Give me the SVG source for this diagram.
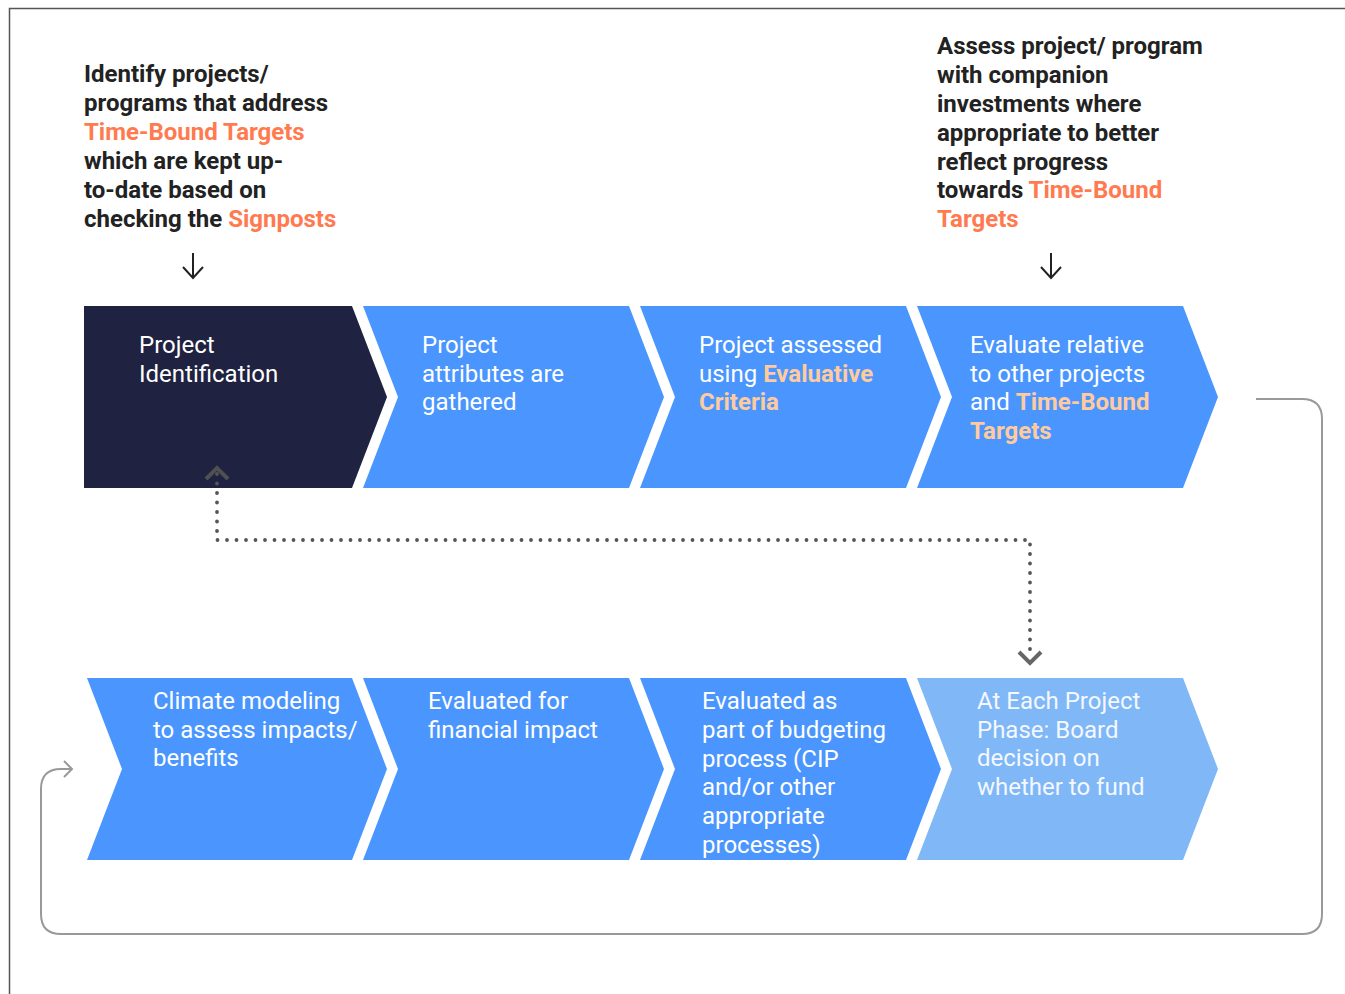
<svg xmlns="http://www.w3.org/2000/svg" width="1345" height="994" viewBox="0 0 1345 994">
<style>
.bg{fill:#ffffff}
.frame{fill:none;stroke:#555555;stroke-width:1.5}
.dark{fill:#1F2240}
.blue{fill:#4A96FE}
.light{fill:#7FB7F7}
.head{font-family:Roboto,"Liberation Sans",sans-serif;font-size:24px;font-weight:700;fill:#222222}
.org{fill:#FF7A4F}
.lbl{font-family:Roboto,"Liberation Sans",sans-serif;font-size:24px;font-weight:400;fill:#ffffff}
.lblL{font-family:Roboto,"Liberation Sans",sans-serif;font-size:24px;font-weight:400;fill:#F4F8FF}
.peach{fill:#FFCB9E;font-weight:700}
.dots{fill:none;stroke:#555555;stroke-width:3.8;stroke-linecap:round;stroke-dasharray:0 9.5}
.dhead{fill:none;stroke:#555555;stroke-width:4;stroke-opacity:0.9}
.loop{fill:none;stroke:#999999;stroke-width:2}
.pt{fill:none;stroke:#222222;stroke-width:2}
</style>
<rect class="bg" x="0" y="0" width="1345" height="994"/>
<path class="frame" d="M1345 8.5 H9.5 V994"/>

<g id="note-left">
<text class="head" x="84" y="82">Identify projects/</text>
<text class="head" x="84" y="111">programs that address</text>
<text class="head org" x="84" y="140">Time-Bound Targets</text>
<text class="head" x="84" y="169">which are kept up-</text>
<text class="head" x="84" y="198">to-date based on</text>
<text class="head" x="84" y="227">checking the <tspan class="org">Signposts</tspan></text>
</g>
<g id="note-right">
<text class="head" x="937" y="54">Assess project/ program</text>
<text class="head" x="937" y="83">with companion</text>
<text class="head" x="937" y="112">investments where</text>
<text class="head" x="937" y="141">appropriate to better</text>
<text class="head" x="937" y="170">reflect progress</text>
<text class="head" x="937" y="198">towards <tspan class="org">Time-Bound</tspan></text>
<text class="head org" x="937" y="227">Targets</text>
</g>

<g id="step1">
<path class="dark" d="M84 306 H352 L387 397 L352 488 H84 Z"/>
<text class="lbl" x="139" y="353">Project</text>
<text class="lbl" x="139" y="382">Identification</text>
</g>
<g id="step2">
<path class="blue" d="M363 306 H629 L664 397 L629 488 H363 L398 397 Z"/>
<text class="lbl" x="422" y="353">Project</text>
<text class="lbl" x="422" y="382">attributes are</text>
<text class="lbl" x="422" y="410">gathered</text>
</g>
<g id="step3">
<path class="blue" d="M640 306 H906 L941 397 L906 488 H640 L675 397 Z"/>
<text class="lbl" x="699" y="353">Project assessed</text>
<text class="lbl" x="699" y="382">using <tspan class="peach">Evaluative</tspan></text>
<text class="lbl peach" x="699" y="410">Criteria</text>
</g>
<g id="step4">
<path class="blue" d="M917 306 H1183 L1218 397 L1183 488 H917 L952 397 Z"/>
<text class="lbl" x="970" y="353">Evaluate relative</text>
<text class="lbl" x="970" y="382">to other projects</text>
<text class="lbl" x="970" y="410">and <tspan class="peach">Time-Bound</tspan></text>
<text class="lbl peach" x="970" y="439">Targets</text>
</g>

<g id="step5">
<path class="blue" d="M87 678 H352 L387 769 L352 860 H87 L122 769 Z"/>
<text class="lbl" x="153" y="709">Climate modeling</text>
<text class="lbl" x="153" y="738">to assess impacts/</text>
<text class="lbl" x="153" y="766">benefits</text>
</g>
<g id="step6">
<path class="blue" d="M363 678 H629 L664 769 L629 860 H363 L398 769 Z"/>
<text class="lbl" x="428" y="709">Evaluated for</text>
<text class="lbl" x="428" y="738">financial impact</text>
</g>
<g id="step7">
<path class="blue" d="M640 678 H906 L941 769 L906 860 H640 L675 769 Z"/>
<text class="lbl" x="702" y="709">Evaluated as</text>
<text class="lbl" x="702" y="738">part of budgeting</text>
<text class="lbl" x="702" y="767">process (CIP</text>
<text class="lbl" x="702" y="795">and/or other</text>
<text class="lbl" x="702" y="824">appropriate</text>
<text class="lbl" x="702" y="853">processes)</text>
</g>
<g id="step8">
<path class="light" d="M917 678 H1183 L1218 769 L1183 860 H917 L952 769 Z"/>
<text class="lblL" x="977" y="709">At Each Project</text>
<text class="lblL" x="977" y="738">Phase: Board</text>
<text class="lblL" x="977" y="766">decision on</text>
<text class="lblL" x="977" y="795">whether to fund</text>
</g>

<g id="connectors">
<path class="pt" d="M193 253 V278 M183 267 L193 278 L203 267"/>
<path class="pt" d="M1051 253 V278 M1041 267 L1051 278 L1061 267"/>
<path class="dots" d="M217 474 V540 H1030 V658"/>
<path class="dhead" d="M206 479 L217 468 L228 479"/>
<path class="dhead" d="M1019 652 L1030 663 L1041 652"/>
<path class="loop" d="M1256 399 H1302 Q1322 399 1322 419 V914 Q1322 934 1302 934 H61 Q41 934 41 914 V789 Q41 769 61 769 H72 M64 761 L72 769 L64 777"/>
</g>
</svg>
